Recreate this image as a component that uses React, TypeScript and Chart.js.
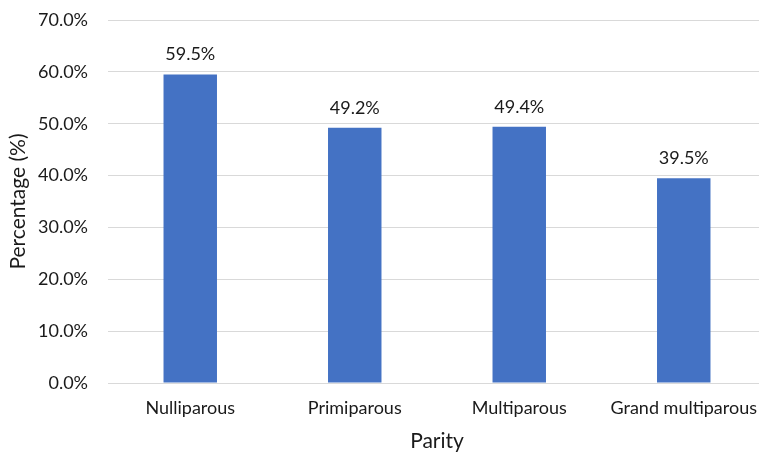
import React, { useEffect, useRef } from "react";
import { Chart, registerables } from "chart.js";

Chart.register(...registerables);

const categories = ["Nulliparous", "Primiparous", "Multiparous", "Grand multiparous"];
const values = [59.5, 49.2, 49.4, 39.5];
const yTicks = [0, 10, 20, 30, 40, 50, 60, 70];

const FONT = "Lato, 'Open Sans', sans-serif";
const TEXT = "#1a1a1a";

const dataLabels = {
  id: "dataLabels",
  afterDatasetsDraw(chart: any) {
    const ctx = chart.ctx;
    const meta = chart.getDatasetMeta(0);
    ctx.save();
    ctx.font = `18px ${FONT}`;
    ctx.fillStyle = TEXT;
    ctx.textAlign = "center";
    ctx.textBaseline = "alphabetic";
    meta.data.forEach((bar: any, i: number) => {
      ctx.fillText(values[i].toFixed(1) + "%", bar.x, bar.y - 14);
    });
    ctx.restore();
  },
};

export default function App() {
  const ref = useRef<HTMLCanvasElement | null>(null);
  useEffect(() => {
    if (!ref.current) return;
    const chart = new Chart(ref.current, {
      type: "bar",
      data: {
        labels: categories,
        datasets: [
          {
            data: values,
            backgroundColor: "#4472C4",
            borderWidth: 0,
            barPercentage: 1,
            categoryPercentage: 0.325,
          },
        ],
      },
      options: {
        animation: false,
        responsive: false,
        maintainAspectRatio: false,
        layout: { padding: { top: 20, left: 0, right: 0, bottom: 0 } },
        plugins: { legend: { display: false }, tooltip: { enabled: false }, title: { display: false } },
        scales: {
          x: {
            grid: { display: false, drawTicks: false },
            border: { display: true, color: "#d9d9d9", width: 1 },
            ticks: { color: TEXT, font: { family: FONT, size: 18 }, padding: 14, maxRotation: 0 },
            title: { display: true, text: "Parity", color: TEXT, font: { family: FONT, size: 21 }, padding: { top: 0, bottom: 0 } },
            afterFit: (s: any) => { s.height = 71; s.paddingLeft = 0; s.paddingRight = 0; },
          },
          y: {
            min: 0,
            max: 70,
            afterBuildTicks: (s: any) => { s.ticks = yTicks.map((v) => ({ value: v })); },
            grid: { color: "#d9d9d9", lineWidth: 1, drawTicks: false },
            border: { display: false },
            ticks: {
              color: TEXT,
              font: { family: FONT, size: 18 },
              padding: 20,
              callback: (v: any) => Number(v).toFixed(1) + "%",
            },
            title: { display: true, text: "Percentage (%)", color: TEXT, font: { family: FONT, size: 21 }, padding: { top: 6, bottom: 0 } },
            afterFit: (s: any) => { s.width = 108; s.paddingTop = 0; s.paddingBottom = 0; },
          },
        },
      },
      plugins: [dataLabels],
    });
    return () => chart.destroy();
  }, []);
  return (
    <div style={{ position: "fixed", left: 0, top: 0, width: 759, height: 454, overflow: "hidden", background: "#fff" }}>
      <canvas ref={ref} width={766} height={454} style={{ display: "block" }} />
    </div>
  );
}
